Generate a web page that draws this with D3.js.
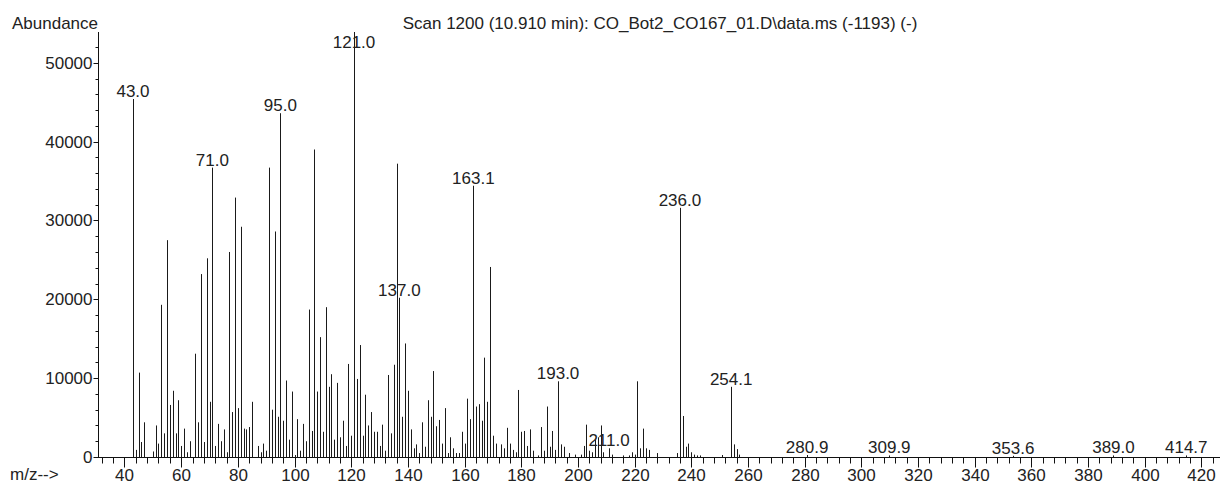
<!DOCTYPE html>
<html>
<head>
<meta charset="utf-8">
<script src="https://cdn.jsdelivr.net/npm/d3@7"></script>
<style>
  html, body { margin: 0; padding: 0; background: #fff; }
  svg { display: block; }
  text { font-family: "Liberation Sans", Arial, sans-serif; fill: #222; }
</style>
</head>
<body>
<svg id="chart" width="1220" height="484"></svg>
<script>
// Mass spectrum of scan 1200: m/z values and their abundances
const mz = [
  43, 44, 45, 46, 47, 50, 51, 52, 53, 54, 55, 56, 57, 58, 59, 60, 61, 62, 63, 65,
  66, 67, 68, 69, 70, 71, 72, 73, 74, 75, 76, 77, 78, 79, 80, 81, 82, 83, 84, 85,
  87, 88, 89, 90, 91, 92, 93, 94, 95, 96, 97, 98, 99, 100, 101, 102, 103, 104, 105, 106,
  107, 108, 109, 110, 111, 112, 113, 114, 115, 116, 117, 118, 119, 120, 121, 122, 123, 124, 125, 126,
  127, 128, 129, 130, 131, 132, 133, 134, 135, 136, 137, 138, 139, 140, 141, 142, 143, 144, 145, 146,
  147, 148, 149, 150, 151, 152, 153, 154, 155, 156, 157, 158, 159, 160, 161, 162, 163.1, 164, 165, 166,
  167, 168, 169, 170, 171, 173, 174, 175, 176, 177, 178, 179, 180, 181, 182, 183, 184, 186, 187, 188,
  189, 190, 191, 192, 193, 194, 195, 197, 199, 201, 202, 203, 204, 205, 206, 207, 208, 209, 211, 212,
  216, 218, 219, 220, 221, 222, 223, 224, 225, 228, 235, 236, 237, 238, 239, 240, 241, 242, 243, 251,
  254.1, 255, 256, 257, 280.9, 309.9, 353.6, 389.0, 414.7
];
const abundance = [
  45400, 900, 10700, 1900, 4400, 700, 4000, 1700, 19300, 3000, 27500, 6600, 8400, 3000, 7200, 1400, 3600, 600, 2000, 13100,
  4400, 23200, 1900, 25200, 7000, 36700, 1400, 4200, 2000, 3500, 600, 26000, 5700, 32900, 6200, 29200, 3600, 3500, 3800, 7000,
  1400, 600, 1700, 800, 36700, 6000, 28600, 5100, 43600, 4600, 9700, 2200, 8300, 250, 4800, 800, 4200, 2000, 18700, 3300,
  39000, 8300, 15200, 3200, 19000, 8900, 10500, 2200, 9400, 2500, 4600, 1400, 11800, 2700, 53900, 9900, 14200, 2700, 7900, 4000,
  5700, 3200, 3200, 1400, 4100, 800, 10400, 3000, 11700, 37200, 20200, 5100, 14400, 8400, 3500, 1100, 1600, 500, 4400, 1300,
  7200, 5100, 10900, 3900, 4700, 1700, 6200, 500, 2500, 1100, 500, 500, 3200, 1700, 7400, 4800, 34400, 6400, 6700, 4600,
  12600, 7000, 24100, 2700, 1700, 1600, 1100, 3700, 1700, 900, 600, 8500, 3200, 3300, 1400, 3500, 800, 200, 3800, 800,
  6400, 1300, 3300, 900, 9600, 1600, 1300, 500, 300, 300, 1400, 4100, 800, 600, 2200, 2500, 4000, 600, 1100, 300,
  200, 200, 600, 300, 9600, 1100, 3600, 1100, 900, 500, 500, 31600, 5200, 1300, 1700, 600, 300, 200, 200, 250,
  8900, 1600, 1000, 300, 250, 200, 150, 200, 200
];
// Peaks that carry an m/z annotation
const labeledPeaks = [43.0, 71.0, 95.0, 121.0, 137.0, 163.1, 193.0, 211.0, 236.0, 254.1, 280.9, 309.9, 353.6, 389.0, 414.7];
const yTicks = [0, 10000, 20000, 30000, 40000, 50000];
const xTicks = [40, 60, 80, 100, 120, 140, 160, 180, 200, 220, 240, 260, 280, 300, 320, 340, 360, 380, 400, 420];

const titleText = "Scan 1200 (10.910 min): CO_Bot2_CO167_01.D\\data.ms (-1193) (-)";

const svg = d3.select("#chart");
const plotLeft = 98, plotRight = 1220, plotTop = 32, plotBottom = 457;
const fontSize = 17;
const ink = "#111";

const x = d3.scaleLinear().domain([30.65, 426.6]).range([plotLeft, plotRight]);
const y = d3.scaleLinear().domain([0, d3.max(abundance)]).range([plotBottom, plotTop]);

const peaks = mz.map((m, i) => ({ m, v: abundance[i] }));
const px = m => Math.round(x(m)) + 0.5;

// spectrum sticks
svg.append("g")
  .selectAll("line")
  .data(peaks)
  .join("line")
  .attr("x1", d => px(d.m))
  .attr("x2", d => px(d.m))
  .attr("y1", y(0))
  .attr("y2", d => y(d.v))
  .attr("stroke", "#1a1a1a")
  .attr("stroke-width", 1);

// y axis: minor ticks every 2000, labelled ticks every 10000
const yAxis = svg.append("g").attr("transform", `translate(${plotLeft + 0.5},0)`);
yAxis.append("g")
  .call(d3.axisLeft(y).tickValues(d3.range(0, d3.max(abundance), 2000)).tickSize(3).tickFormat(""))
  .call(g => g.select(".domain").remove());
yAxis.append("g")
  .call(d3.axisLeft(y).tickValues(yTicks).tickSize(5).tickPadding(1).tickFormat(d3.format("d")))
  .call(g => g.select(".domain").remove())
  .call(g => g.selectAll("text").attr("font-size", fontSize).attr("fill", "#222"));
yAxis.selectAll(".tick").attr("transform", d => `translate(0,${Math.round(y(d)) + 0.5})`);
yAxis.selectAll("line").attr("stroke", ink);
yAxis.append("line")
  .attr("x1", 0).attr("x2", 0)
  .attr("y1", y(d3.max(abundance))).attr("y2", plotBottom + 0.5)
  .attr("stroke", ink);

// x axis: minor ticks every 4, labelled ticks every 20
const xAxis = svg.append("g").attr("transform", `translate(0,${plotBottom + 0.5})`);
xAxis.append("g")
  .call(d3.axisBottom(x).tickValues(d3.range(32, 427, 4)).tickSize(6).tickFormat(""))
  .call(g => g.select(".domain").remove());
xAxis.append("g")
  .call(d3.axisBottom(x).tickValues(xTicks).tickSize(10).tickPadding(1).tickFormat(d3.format("d")))
  .call(g => g.select(".domain").remove())
  .call(g => g.selectAll("text").attr("font-size", fontSize).attr("fill", "#222"));
xAxis.selectAll(".tick").attr("transform", d => `translate(${px(d)},0)`);
xAxis.selectAll("line").attr("stroke", ink);
xAxis.append("line")
  .attr("x1", plotLeft).attr("x2", plotRight)
  .attr("y1", 0).attr("y2", 0)
  .attr("stroke", ink);

// peak annotations, kept inside the plot top
const labelData = peaks.filter(p => labeledPeaks.some(l => Math.abs(l - p.m) < 1e-6));
svg.append("g")
  .selectAll("text")
  .data(labelData)
  .join("text")
  .attr("x", d => x(d.m))
  .attr("y", d => Math.max(y(d.v) - 2, plotTop + 16))
  .attr("text-anchor", "middle")
  .attr("font-size", fontSize)
  .text(d => d.m.toFixed(1));

// titles
svg.append("text").attr("x", 12).attr("y", 29).attr("font-size", fontSize).text("Abundance");
svg.append("text").attr("x", 660).attr("y", 29).attr("text-anchor", "middle").attr("font-size", fontSize).text(titleText);
svg.append("text").attr("x", 10).attr("y", 480).attr("font-size", fontSize).text("m/z-->");
</script>
</body>
</html>
